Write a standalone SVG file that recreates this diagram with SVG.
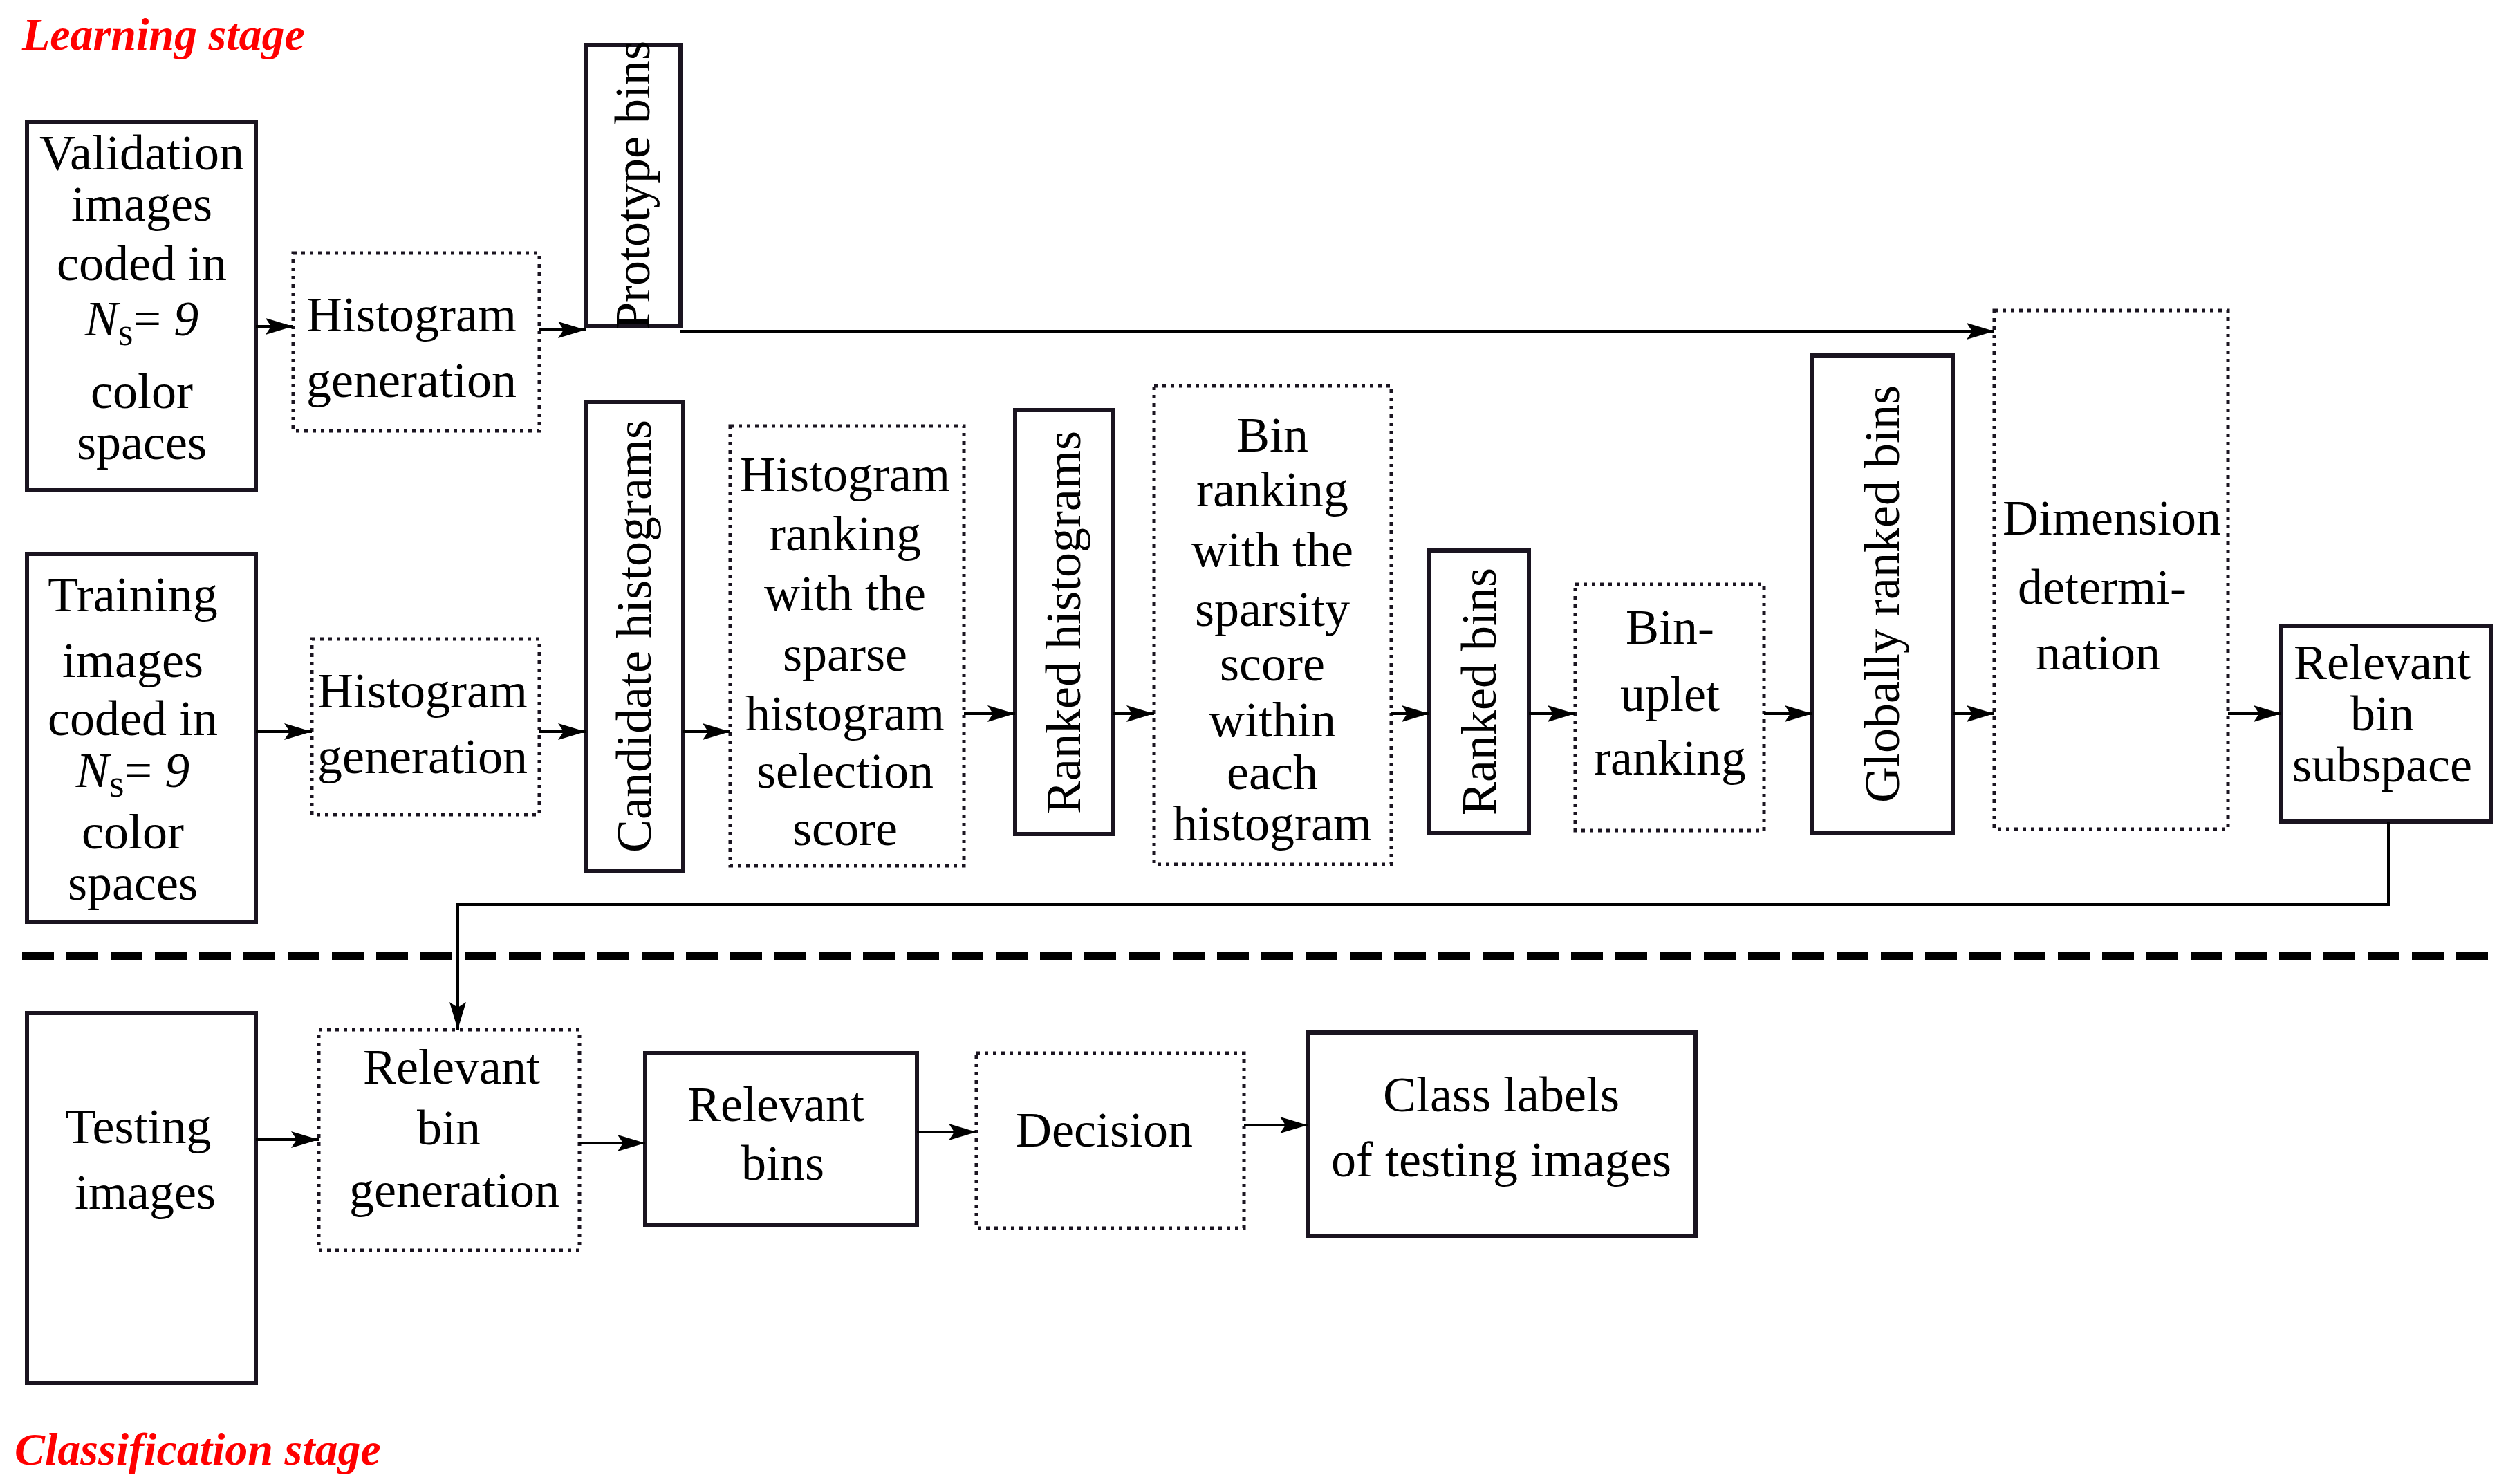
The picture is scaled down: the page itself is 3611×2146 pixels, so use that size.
<svg xmlns="http://www.w3.org/2000/svg" width="3611" height="2146" viewBox="0 0 3611 2146" font-family="'Liberation Serif', 'Times New Roman', 'DejaVu Serif', serif">
<style>
text{font-family:'Liberation Serif','Times New Roman','DejaVu Serif',serif;font-size:72px;fill:#000;text-anchor:middle}
.solid{fill:#fff;stroke:#1a1420;stroke-width:6}
.dot{fill:#fff;stroke:#1a1420;stroke-width:5;stroke-dasharray:5 7}
.con{fill:none;stroke:#000;stroke-width:4}
.stage{fill:#f00;font-weight:bold;font-style:italic;font-size:66px;text-anchor:start}
.v{dominant-baseline:central}
</style>
<defs>
<marker id="a" viewBox="0 0 40 24" refX="40" refY="12" markerWidth="40" markerHeight="24" markerUnits="userSpaceOnUse" orient="auto"><path d="M0,0 L40,12 L0,24 L8,12 Z" fill="#000"/></marker></defs>
<text class="stage" x="32" y="72">Learning stage</text>
<text class="stage" x="21" y="2118">Classification stage</text>
<line x1="32" y1="1382" x2="3602" y2="1382" stroke="#000" stroke-width="12" stroke-dasharray="46 18"/>
<g id="validation"><rect class="solid" x="39" y="176" width="331" height="532"/>
<text x="205" y="245">Validation</text><text x="205" y="319">images</text><text x="205" y="405">coded in</text>
<text x="205" y="485"><tspan font-style="italic">N</tspan><tspan font-size="56" dy="14">s</tspan><tspan dy="-14">= </tspan><tspan font-style="italic">9</tspan></text>
<text x="205" y="590">color</text><text x="205" y="664">spaces</text></g>
<g id="hg1"><rect class="dot" x="424" y="366" width="356" height="257"/><text x="595" y="479">Histogram</text><text x="595" y="574">generation</text></g>
<g id="proto"><rect class="solid" x="847" y="65" width="137" height="407"/><text class="v" transform="translate(915,268) rotate(-90)">Prototype bins</text></g>
<g id="training"><rect class="solid" x="39" y="801" width="331" height="532"/>
<text x="192" y="884">Training</text><text x="192" y="979">images</text><text x="192" y="1063">coded in</text>
<text x="192" y="1138"><tspan font-style="italic">N</tspan><tspan font-size="56" dy="14">s</tspan><tspan dy="-14">= </tspan><tspan font-style="italic">9</tspan></text>
<text x="192" y="1227">color</text><text x="192" y="1301">spaces</text></g>
<g id="hg2"><rect class="dot" x="451" y="924" width="329" height="254"/><text x="611" y="1023">Histogram</text><text x="611" y="1118">generation</text></g>
<g id="cand"><rect class="solid" x="847" y="581" width="141" height="678"/><text class="v" transform="translate(917,920) rotate(-90)">Candidate histograms</text></g>
<g id="hr"><rect class="dot" x="1056" y="616" width="338" height="636"/>
<text x="1222" y="710">Histogram</text><text x="1222" y="796">ranking</text><text x="1222" y="882">with the</text><text x="1222" y="970">sparse</text><text x="1222" y="1056">histogram</text><text x="1222" y="1139">selection</text><text x="1222" y="1222">score</text></g>
<g id="rh"><rect class="solid" x="1468" y="593" width="141" height="613"/><text class="v" transform="translate(1538,900) rotate(-90)">Ranked histograms</text></g>
<g id="br"><rect class="dot" x="1669" y="558" width="343" height="692"/>
<text x="1840" y="653">Bin</text><text x="1840" y="732">ranking</text><text x="1840" y="819">with the</text><text x="1840" y="905">sparsity</text><text x="1840" y="984">score</text><text x="1840" y="1065">within</text><text x="1840" y="1141">each</text><text x="1840" y="1215">histogram</text></g>
<g id="rb"><rect class="solid" x="2067" y="796" width="144" height="408"/><text class="v" transform="translate(2139,1000) rotate(-90)">Ranked bins</text></g>
<g id="uplet"><rect class="dot" x="2278" y="845" width="273" height="356"/><text x="2415" y="931">Bin-</text><text x="2415" y="1028">uplet</text><text x="2415" y="1120">ranking</text></g>
<g id="grb"><rect class="solid" x="2621" y="514" width="203" height="690"/><text class="v" transform="translate(2722,859) rotate(-90)">Globally ranked bins</text></g>
<g id="dim"><rect class="dot" x="2884" y="449" width="338" height="750"/><text x="3054" y="773">Dimension</text><text x="3040" y="873">determi-</text><text x="3034" y="968">nation</text></g>
<g id="rbs"><rect class="solid" x="3299" y="905" width="303" height="283"/><text x="3445" y="982">Relevant</text><text x="3445" y="1056">bin</text><text x="3445" y="1130">subspace</text></g>
<g id="testing"><rect class="solid" x="39" y="1465" width="331" height="535"/><text x="200" y="1653">Testing</text><text x="210" y="1748">images</text></g>
<g id="rbg"><rect class="dot" x="461" y="1489" width="377" height="319"/><text x="653" y="1567">Relevant</text><text x="649" y="1655">bin</text><text x="657" y="1745">generation</text></g>
<g id="relbins"><rect class="solid" x="933" y="1523" width="393" height="248"/><text x="1122" y="1621">Relevant</text><text x="1132" y="1706">bins</text></g>
<g id="decision"><rect class="dot" x="1412" y="1523" width="387" height="253"/><text x="1597" y="1658">Decision</text></g>
<g id="classlabels"><rect class="solid" x="1891" y="1493" width="561" height="294"/><text x="2171" y="1607">Class labels</text><text x="2171" y="1701">of testing images</text></g>
<g id="connectors">
<line class="con" marker-end="url(#a)" x1="370" y1="472" x2="424" y2="472"/>
<line class="con" marker-end="url(#a)" x1="780" y1="477" x2="847" y2="477"/>
<line class="con" marker-end="url(#a)" x1="984" y1="479" x2="2884" y2="479"/>
<line class="con" marker-end="url(#a)" x1="370" y1="1058" x2="451" y2="1058"/>
<line class="con" marker-end="url(#a)" x1="780" y1="1058" x2="847" y2="1058"/>
<line class="con" marker-end="url(#a)" x1="988" y1="1058" x2="1056" y2="1058"/>
<line class="con" marker-end="url(#a)" x1="1394" y1="1032" x2="1468" y2="1032"/>
<line class="con" marker-end="url(#a)" x1="1609" y1="1032" x2="1669" y2="1032"/>
<line class="con" marker-end="url(#a)" x1="2012" y1="1032" x2="2067" y2="1032"/>
<line class="con" marker-end="url(#a)" x1="2211" y1="1032" x2="2278" y2="1032"/>
<line class="con" marker-end="url(#a)" x1="2551" y1="1032" x2="2621" y2="1032"/>
<line class="con" marker-end="url(#a)" x1="2824" y1="1032" x2="2884" y2="1032"/>
<line class="con" marker-end="url(#a)" x1="3222" y1="1032" x2="3299" y2="1032"/>
<polyline class="con" marker-end="url(#a)" points="3454,1188 3454,1308 662,1308 662,1489"/>
<line class="con" marker-end="url(#a)" x1="370" y1="1648" x2="461" y2="1648"/>
<line class="con" marker-end="url(#a)" x1="838" y1="1653" x2="933" y2="1653"/>
<line class="con" marker-end="url(#a)" x1="1326" y1="1637" x2="1412" y2="1637"/>
<line class="con" marker-end="url(#a)" x1="1799" y1="1627" x2="1891" y2="1627"/>
</g>
</svg>
